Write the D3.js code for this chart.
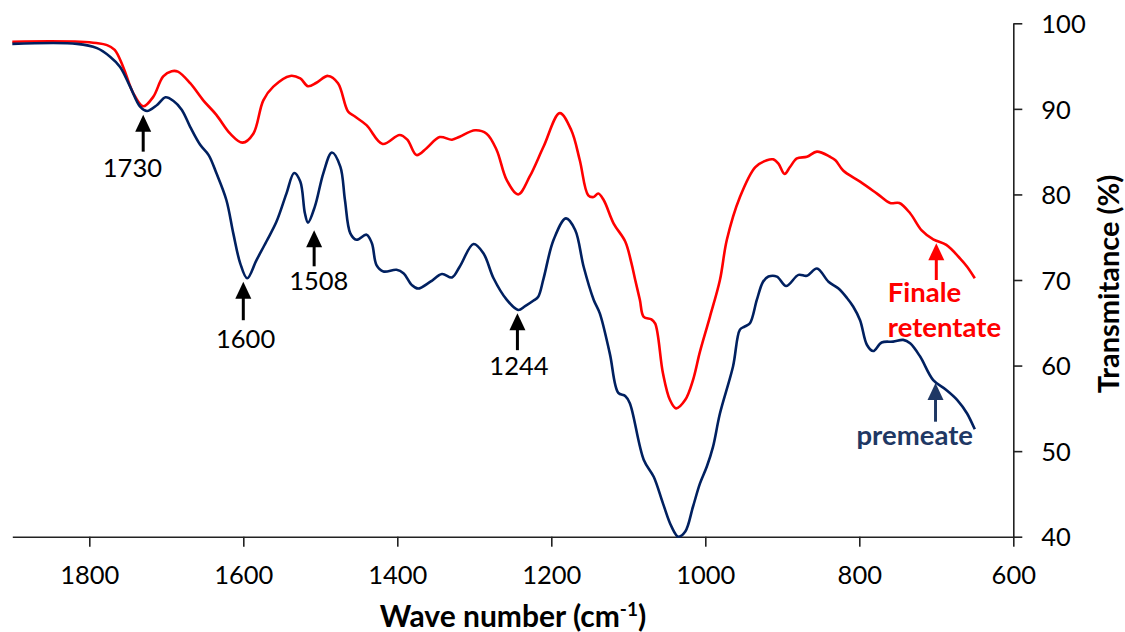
<!DOCTYPE html>
<html>
<head>
<meta charset="utf-8">
<script src="https://cdn.jsdelivr.net/npm/d3@7"></script>
<style>
  html, body { margin: 0; padding: 0; background: #fff; }
  svg { display: block; font-family: Lato, "Noto Sans", sans-serif; }
</style>
</head>
<body>
<svg id="chart" width="1125" height="632"></svg>
<script>
// ---- Data (wavenumber cm-1, transmittance %) ----
const retentateWave = [1900,1851,1812,1791,1777,1767,1756,1743,1730,1717,1704,1693,1685,1669,1652,1635,1617,1601,1587,1574,1561,1539,1526,1516,1505,1490,1477,1464,1455,1440,1419,1397,1387,1375,1362,1345,1329,1319,1299,1284,1271,1258,1243,1228,1210,1189,1174,1163,1152,1145,1139,1132,1119,1104,1096,1091,1085,1080,1070,1065,1055,1046,1038,1026,1016,1007,994,981,972,955,935,920,912,905,897,890,881,868,855,838,831,821,799,777,760,748,734,719,704,687,669,660,650];
const retentateT = [97.85,97.9,97.85,97.7,97.45,96.9,94.9,91.85,90.3,91.4,93.8,94.4,94.35,93.0,91.0,89.3,87.1,86.05,87.1,91.0,92.6,93.85,93.55,92.65,93.05,93.85,93.0,89.7,89.1,88.1,85.9,86.95,86.4,84.6,85.4,86.7,86.4,86.75,87.5,87.1,85.2,81.7,80.0,82.1,85.6,89.5,87.5,84.0,79.9,79.7,80.1,79.35,76.6,74.5,72.0,70.0,67.7,65.7,65.4,64.9,59.1,56.0,55.0,56.0,58.3,61.6,65.7,70.0,74.7,79.7,83.2,84.0,84.1,83.6,82.4,83.2,84.2,84.4,85.0,84.4,84.0,82.8,81.5,80.1,79.0,79.0,77.8,75.8,74.75,74.1,72.5,71.55,70.2];

const permeateWave = [1900,1816,1790,1773,1760,1747,1734,1725,1712,1701,1691,1680,1669,1656,1645,1635,1622,1613,1604,1595,1583,1570,1557,1544,1534,1526,1520,1516,1507,1496,1485,1474,1468,1461,1453,1440,1433,1427,1418,1401,1392,1381,1373,1357,1342,1329,1319,1301,1288,1275,1258,1243,1234,1223,1217,1210,1197,1181,1169,1158,1145,1137,1124,1113,1104,1098,1080,1067,1055,1044,1035,1026,1016,1007,998,990,981,964,955,949,942,933,925,918,907,895,879,868,855,840,827,816,808,799,790,782,771,756,743,734,721,704,687,673,660,650];
const permeateT = [97.6,97.6,97.1,96.1,94.9,92.6,90.25,89.75,90.45,91.35,90.95,89.9,87.9,85.8,84.6,82.5,79.35,75.45,71.95,70.2,72.3,74.5,76.8,80.1,82.5,81.5,77.8,76.7,78.6,82.5,84.9,83.25,79.35,75.45,74.7,75.3,74.3,71.75,71.0,71.2,70.8,69.4,69.0,69.8,70.7,70.3,71.55,74.2,73.1,70.2,67.7,66.5,66.95,67.6,68.05,70.2,74.7,77.2,75.85,71.55,67.7,66.1,61.4,56.8,56.45,55.6,49.0,47.0,43.9,41.2,40.0,40.6,43.5,46.2,48.2,50.5,54.4,59.9,64.2,64.55,64.95,67.7,69.8,70.4,70.4,69.3,70.6,70.5,71.35,69.8,69.0,67.9,66.9,65.3,62.4,61.7,62.7,62.8,63.0,62.6,61.05,58.3,57.15,56.0,54.4,52.55];

const xTicks = [1800, 1600, 1400, 1200, 1000, 800, 600];
const yTicks = [40, 50, 60, 70, 80, 90, 100];

// Annotations: label, wavenumber of arrow, arrow tip T, arrow tail T, text wavenumber, text T
const peakLabels = ["1730", "1600", "1508", "1244"];
const peakWave   = [1730, 1600, 1508, 1244];
const peakTipT   = [89.3, 69.8, 75.8, 66.1];
const peakTailT  = [85.0, 65.3, 71.6, 61.8];
const peakTextW  = [1744, 1597, 1502, 1242];
const peakTextT  = [82.0, 62.0, 68.8, 58.9];

// ---- Chart ----
const svg = d3.select("#chart");
const x = d3.scaleLinear().domain([1900, 600]).range([12.3, 1013.3]);
const y = d3.scaleLinear().domain([40, 100]).range([536.7, 23.3]);

const RED = "#FF0000", NAVY = "#002060", NAVY_TXT = "#1F3864";

// axes
const xAxis = svg.append("g")
  .attr("transform", `translate(0,${y(40)})`)
  .call(d3.axisBottom(x).tickValues(xTicks).tickFormat(d3.format("d"))
        .tickSize(10).tickSizeOuter(0).tickPadding(19));
const yAxis = svg.append("g")
  .attr("transform", `translate(${x(600)},0)`)
  .call(d3.axisRight(y).tickValues(yTicks).tickFormat(d3.format("d"))
        .tickSize(9).tickSizeOuter(0).tickPadding(19));
[xAxis, yAxis].forEach(g => {
  g.selectAll("path.domain").attr("stroke", "#222").attr("stroke-width", 1.6);
  g.selectAll(".tick line").attr("stroke", "#222").attr("stroke-width", 1.6);
  g.selectAll(".tick text").attr("fill", "#000").style("font-size", "25.5px")
    .style("font-family", "Lato, 'Noto Sans', sans-serif");
});
yAxis.selectAll(".tick text").attr("dy", "0.36em");

// lines
const line = d3.line().x(d => x(d[0])).y(d => y(d[1])).curve(d3.curveCatmullRom.alpha(0.5));
const retData = retentateWave.map((w, i) => [w, retentateT[i]]);
const perData = permeateWave.map((w, i) => [w, permeateT[i]]);

svg.append("path").datum(retData).attr("d", line)
  .attr("fill", "none").attr("stroke", RED).attr("stroke-width", 2.6).attr("stroke-linejoin", "round");
svg.append("path").datum(perData).attr("d", line)
  .attr("fill", "none").attr("stroke", NAVY).attr("stroke-width", 2.6).attr("stroke-linejoin", "round");

// arrow helper
function arrow(px, tipY, tailY, color) {
  const hw = 8, hh = 17;
  svg.append("line").attr("x1", px).attr("x2", px).attr("y1", tipY + hh - 2).attr("y2", tailY)
    .attr("stroke", color).attr("stroke-width", 3);
  svg.append("path")
    .attr("d", `M${px},${tipY} L${px - hw},${tipY + hh} L${px + hw},${tipY + hh} Z`)
    .attr("fill", color);
}

peakLabels.forEach((lab, i) => {
  arrow(x(peakWave[i]), y(peakTipT[i]), y(peakTailT[i]), "#000");
  svg.append("text").attr("x", x(peakTextW[i])).attr("y", y(peakTextT[i]))
    .attr("text-anchor", "middle").style("font-size", "25.5px").attr("fill", "#000").text(lab);
});

// series labels
arrow(x(700), y(74.3), y(70.0), RED);
svg.append("text").attr("x", x(763)).attr("y", y(67.4)).attr("fill", RED)
  .style("font-size", "27.5px").style("font-weight", "bold").text("Finale");
svg.append("text").attr("x", x(763)).attr("y", y(63.35)).attr("fill", RED)
  .style("font-size", "27.5px").style("font-weight", "bold").text("retentate");

arrow(x(701), y(57.96), y(53.44), NAVY_TXT);
svg.append("text").attr("x", x(728)).attr("y", y(50.72)).attr("fill", NAVY_TXT)
  .attr("text-anchor", "middle").style("font-size", "27.5px").style("font-weight", "bold").text("premeate");

// axis titles
const xt = svg.append("text").attr("x", 513).attr("y", 627).attr("text-anchor", "middle")
  .style("font-size", "30px").style("font-weight", "bold").attr("fill", "#000");
xt.append("tspan").text("Wave number (cm");
xt.append("tspan").attr("dy", -11).style("font-size", "19px").text("-1");
xt.append("tspan").attr("dy", 11).text(")");

svg.append("text").attr("transform", `translate(1119,284) rotate(-90)`)
  .attr("text-anchor", "middle").style("font-size", "29px").style("font-weight", "bold")
  .attr("fill", "#000").text("Transmitance (%)");
</script>
</body>
</html>
